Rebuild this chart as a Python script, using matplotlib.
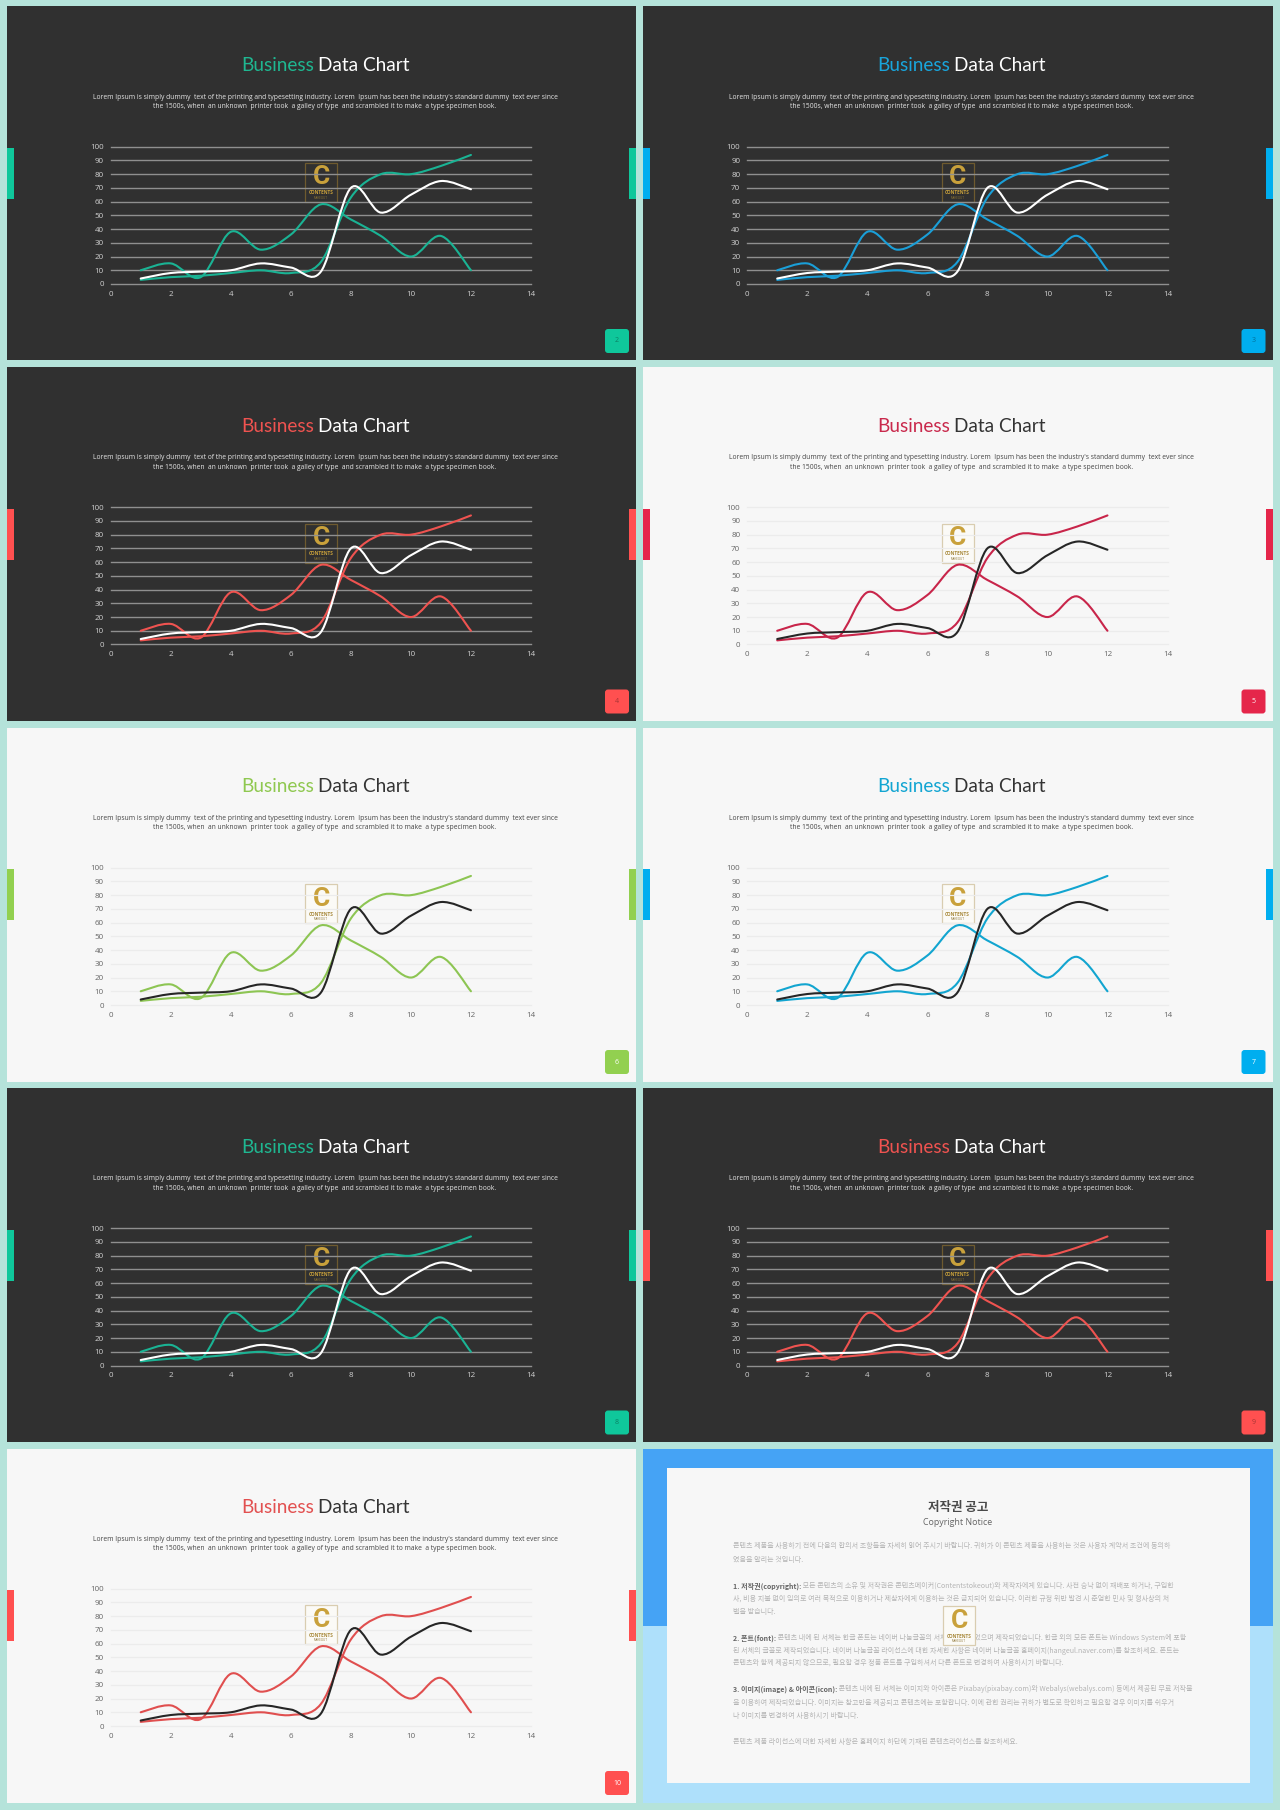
#!/usr/bin/env python3
"""Slide template contact sheet: ten slides, nine with the same smooth line chart."""

import matplotlib
matplotlib.use("Agg")
import numpy as np
import matplotlib.pyplot as plt
from matplotlib.patches import FancyBboxPatch, PathPatch, Rectangle
from matplotlib.path import Path

# chart data
x_vals = [1, 2, 3, 4, 5, 6, 7, 8, 9, 10, 11, 12]
series_a = [3, 5, 6, 8, 10, 8, 16, 63, 80, 80, 86, 94]
series_b = [10, 15, 5, 38, 25, 36, 58, 47, 35, 20, 35, 10]
series_c = [4, 8, 9, 10, 15, 12, 9, 70, 52, 65, 75, 69]
y_ticks = list(range(0, 101, 10))
x_ticks = list(range(0, 15, 2))

# slides: row, column, dark?, title colour, line colour, tab colour, page
slide_rows = [0, 0, 1, 1, 2, 2, 3, 3, 4]
slide_cols = [0, 1, 0, 1, 0, 1, 0, 1, 0]
slide_dark = [True, True, True, False, False, False, True, True, False]
title_colors = ["#1fb791", "#19a5dc", "#ef5350", "#c9294c", "#8fc850", "#12a5d2", "#1fb791", "#ef5350", "#e25050"]
line_colors = ["#1ab394", "#1a9fd8", "#ef5350", "#c8254a", "#8dc553", "#12a5d0", "#1ab394", "#ef5350", "#e04f4f"]
tab_colors = ["#0fc79b", "#00aeef", "#ff5050", "#e5264a", "#92d050", "#00aeef", "#0fc79b", "#ff5050", "#ff5050"]
pages = ["2", "3", "4", "5", "6", "7", "8", "9", "10"]

body_lines = [
    "Lorem Ipsum is simply dummy  text of the printing and typesetting industry. Lorem  Ipsum has been the industry's standard dummy  text ever since",
    "the 1500s, when  an unknown  printer took  a galley of type  and scrambled it to make  a type specimen book.",
]

notice_lines = [
    (1546, "", "콘텐츠 제품을 사용하기 전에 다음의 합의서 조항들을 자세히 읽어 주시기 바랍니다. 귀하가 이 콘텐츠 제품을 사용하는 것은 사용자 계약서 조건에 동의하"),
    (1560, "", "였음을 알리는 것입니다."),
    (1586, "1. 저작권(copyright):", " 모든 콘텐츠의 소유 및 저작권은 콘텐츠메이커(Contentstokeout)와 제작자에게 있습니다. 사전 승낙 없이 재배포 하거나, 구입한"),
    (1599, "", "사, 비용 지불 없이 임의로 여러 목적으로 이용하거나 제삼자에게 이용하는 것은 금지되어 있습니다. 이러한 규정 위반 발견 시 준엄한 민사 및 형사상의 처"),
    (1612, "", "벌을 받습니다."),
    (1638, "2. 폰트(font):", " 콘텐츠 내에 된 서체는 한글 폰트는 네이버 나눔글꼴의 서체로 제작되었으며 제작되었습니다. 한글 외의 모든 폰트는 Windows System에 포함"),
    (1651, "", "된 서체의 글꼴로 제작되었습니다. 네이버 나눔글꼴 라이선스에 대한 자세한 사항은 네이버 나눔글꼴 홈페이지(hangeul.naver.com)를 참조하세요. 폰트는"),
    (1663, "", "콘텐츠와 함께 제공되지 않으므로, 필요할 경우 정품 폰트를 구입하셔서 다른 폰트로 변경하여 사용하시기 바랍니다."),
    (1689, "3. 이미지(image) & 아이콘(icon):", " 콘텐츠 내에 된 서체는 이미지와 아이콘은 Pixabay(pixabay.com)와 Webalys(webalys.com) 등에서 제공된 무료 저작물"),
    (1703, "", "을 이용하여 제작되었습니다. 이미지는 참고만을 제공되고 콘텐츠에는 포함합니다. 이에 관한 권리는 귀하가 별도로 확인하고 필요할 경우 이미지를 쉬우거"),
    (1716, "", "나 이미지를 변경하여 사용하시기 바랍니다."),
    (1742, "", "콘텐츠 제품 라이선스에 대한 자세한 사항은 홈페이지 하단에 기재된 콘텐츠라이선스를 참조하세요."),
]

FRAME = "#b5e3da"
DARK_BG = "#303030"
LIGHT_BG = "#f7f7f7"
W, H = 1280, 1810
ROW_STEP = 360.5
COL_STEP = 636.5
LATIN = ["Open Sans", "DejaVu Sans"]
TITLE = ["Lato", "DejaVu Sans"]
LOGO = ["Roboto", "DejaVu Sans"]
KR = ["Noto Sans CJK KR", "DejaVu Sans"]


def smooth_path(xs, ys):
    # Catmull-Rom through the data points, same look as a spreadsheet smooth line
    px = np.array(xs, dtype=float)
    py = np.array(ys, dtype=float)
    verts = [(px[0], py[0])]
    codes = [Path.MOVETO]
    n = len(px)
    for i in range(n - 1):
        a = max(i - 1, 0)
        d = min(i + 2, n - 1)
        verts.append((px[i] + (px[i + 1] - px[a]) / 6, py[i] + (py[i + 1] - py[a]) / 6))
        verts.append((px[i + 1] - (px[d] - px[i]) / 6, py[i + 1] - (py[d] - py[i]) / 6))
        verts.append((px[i + 1], py[i + 1]))
        codes += [Path.CURVE4] * 3
    return Path(verts, codes)


def draw_logo(bg, x0, y0, dark, z=3):
    edge = "#6e5a2f" if dark else "#d9cdb0"
    face = "none" if dark else "#fbfaf6"
    bg.add_patch(Rectangle((x0, y0), 32, 39, facecolor=face, edgecolor=edge, linewidth=0.9, zorder=z))
    bg.text(x0 + 16, y0 + 14.5, "C", color="#c9a13b", fontsize=19, fontweight="bold",
            family=LOGO, ha="center", va="center", zorder=z + 1)
    bg.text(x0 + 16, y0 + 30, "CONTENTS", color="#c9a13b" if dark else "#a98a3c",
            fontsize=3.4, fontweight="bold", family=LATIN, ha="center", va="center", zorder=z + 1)
    bg.text(x0 + 16, y0 + 35, "MAKEOUT", color="#8d7433", fontsize=2.2,
            family=LATIN, ha="center", va="center", zorder=z + 1)


def draw_slide(fig, bg, i):
    row, col = slide_rows[i], slide_cols[i]
    dark = slide_dark[i]
    dx = col * COL_STEP
    dy = row * ROW_STEP
    text_color = "#ffffff" if dark else "#333333"

    bg.add_patch(Rectangle((6.5 + dx, 6.5 + dy), 629.5, 354, facecolor=DARK_BG if dark else LIGHT_BG,
                           edgecolor="none", zorder=1))

    # side tabs
    bg.add_patch(Rectangle((6.5 + dx, 148 + dy), 7, 51, facecolor=tab_colors[i], edgecolor="none", zorder=2))
    bg.add_patch(Rectangle((629 + dx, 148 + dy), 7, 51, facecolor=tab_colors[i], edgecolor="none", zorder=2))

    # title in two colours
    bg.text(314 + dx, 71 + dy, "Business", color=title_colors[i], fontsize=13.7, family=TITLE,
            ha="right", va="baseline", zorder=3)
    bg.text(318 + dx, 71 + dy, "Data Chart", color=text_color, fontsize=13.7, family=TITLE,
            ha="left", va="baseline", zorder=3)

    for k, line in enumerate(body_lines):
        bg.text(325 + dx, 97.3 + k * 9.6 + dy, line, color="#e6e6e6" if dark else "#444444",
                fontsize=4.85, family=LATIN, ha="center", va="center", zorder=3)

    draw_logo(bg, 305 + dx, 163 + dy, dark)

    # page badge
    bg.add_patch(FancyBboxPatch((607 + dx, 331 + dy), 20, 20, boxstyle="round,pad=2,rounding_size=3",
                                facecolor=tab_colors[i], edgecolor="none", zorder=3))
    bg.text(617 + dx, 341 + dy, pages[i], color=(0, 0, 0, 0.35) if dark else "#ffffff", fontsize=5,
            family=LATIN, ha="center", va="center", zorder=4)

    # chart
    left, right = 110.7 + dx, 531 + dx
    top, bottom = 146.7 + dy, 284 + dy
    ax = fig.add_axes([left / W, 1 - bottom / H, (right - left) / W, (bottom - top) / H])
    ax.patch.set_alpha(0)
    ax.set_xlim(0, 14)
    ax.set_ylim(0, 100)
    ax.set_xticks(x_ticks)
    ax.set_yticks(y_ticks)
    tick_color = "#d0d0d0" if dark else "#666666"
    ax.tick_params(length=0, labelsize=5.8, labelcolor=tick_color, pad=5)
    for lab in ax.get_xticklabels() + ax.get_yticklabels():
        lab.set_family(LATIN)
    ax.grid(axis="y", color="#8f8f8f" if dark else "#ececec", linewidth=1.0 if dark else 0.9, clip_on=False)
    ax.set_axisbelow(True)
    for s in ax.spines.values():
        s.set_visible(False)
    for ser, color in ((series_a, line_colors[i]), (series_b, line_colors[i]),
                       (series_c, "#ffffff" if dark else "#262626")):
        ax.add_patch(PathPatch(smooth_path(x_vals, ser), facecolor="none", edgecolor=color,
                               linewidth=1.5, capstyle="round", zorder=3))


def draw_notice(fig, bg):
    x0, y0 = 6.5 + COL_STEP, 6.5 + 4 * ROW_STEP
    bg.add_patch(Rectangle((x0, y0), 629.5, 177.5, facecolor="#45a3f5", edgecolor="none", zorder=1))
    bg.add_patch(Rectangle((x0, y0 + 177.5), 629.5, 176.5, facecolor="#aee0fb", edgecolor="none", zorder=1))
    bg.add_patch(Rectangle((666.5, 1468), 583.5, 315, facecolor=LIGHT_BG, edgecolor="none", zorder=2))
    bg.text(958, 1507, "저작권 공고", color="#4a4a4a", fontsize=9, fontweight="bold", family=KR,
            ha="center", va="center", zorder=3)
    bg.text(958, 1522, "Copyright Notice", color="#666666", fontsize=6.4, family=LATIN,
            ha="center", va="center", zorder=3)
    renderer = fig.canvas.get_renderer()
    for y, lead, rest in notice_lines:
        x = 733
        if lead:
            t = bg.text(x, y, lead, color="#666666", fontsize=5.05, fontweight="bold", family=KR,
                        ha="left", va="center", zorder=3)
            x = t.get_window_extent(renderer).x1
        bg.text(x, y, rest, color="#b4b4b4", fontsize=5.05, family=KR, ha="left", va="center", zorder=3)
    draw_logo(bg, 943, 1606, False, z=4)


def main():
    fig = plt.figure(figsize=(W / 100, H / 100), dpi=100, facecolor=FRAME)
    bg = fig.add_axes([0, 0, 1, 1])
    bg.set_xlim(0, W)
    bg.set_ylim(H, 0)
    bg.axis("off")

    for i in range(len(pages)):
        draw_slide(fig, bg, i)
    draw_notice(fig, bg)

    # gutters sit over the tabs that overlap two slides
    bg.add_patch(Rectangle((636, 0), 7, H, facecolor=FRAME, edgecolor="none", zorder=2.5))

    fig.savefig("out.png", dpi=100, facecolor=FRAME)
    plt.close(fig)


if __name__ == "__main__":
    main()
